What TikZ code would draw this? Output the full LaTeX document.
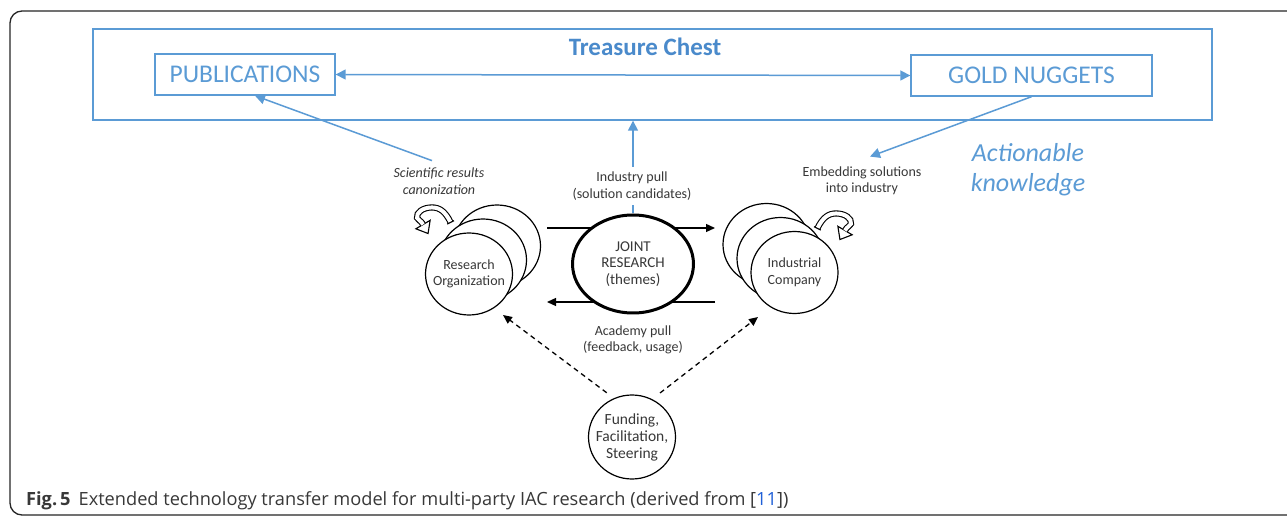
\documentclass[tikz,border=0pt]{standalone}
\usepackage{fontspec}
\setmainfont{Carlito}
\newfontfamily\capfont{Open Sans}
\usetikzlibrary{arrows.meta,shapes.geometric}
\definecolor{cblue}{HTML}{5B9BD5}
\definecolor{tblue}{HTML}{4A8ACB}
\definecolor{ctext}{HTML}{383838}
\definecolor{refblue}{HTML}{2060D8}
\tikzset{
  uturn/.pic={
    \draw[line width=1.1pt, fill=white, line join=miter] (-2.6,1.2) -- (-4.5,13.2) -- (-15.6,8.9) -- cycle;
    \draw[line width=1.1pt, double=white, double distance=4pt]
      (16,3) .. controls (11,-7) and (6,-10.5) .. (-1,-10.5)
      .. controls (-9,-10.5) and (-15.5,-6) .. (-14.5,-1)
      .. controls (-13.5,1) and (-11,1.5) .. (-9,5);
    \draw[line width=1.1pt] (19.1,1.5) -- (12.9,4.6);
  }
}
\begin{document}
\begin{tikzpicture}[x=1pt,y=-1pt,
  barrow/.style={draw=cblue, fill=cblue, line width=1.5pt, -{Triangle[length=10pt,width=10pt]}},
  karrow/.style={draw=black, line width=1.3pt, -{Triangle[length=9pt,width=8pt]}},
  darrow/.style={draw=black, line width=1.3pt, dash pattern=on 5pt off 4pt, -{Triangle[length=9pt,width=8pt]}},
  actor/.style={ellipse, draw=black, line width=1.2pt, fill=white, minimum width=87pt, minimum height=82pt, inner sep=-20pt, align=center, text=ctext, font=\fontsize{14}{16.5}\selectfont},
  lbl/.style={align=center, text=ctext, font=\fontsize{14}{16.5}\selectfont, inner sep=1pt},
  boxlbl/.style={draw=cblue, line width=1.4pt, text=cblue, font=\fontsize{25.5}{28}\selectfont, inner sep=0pt, minimum height=41pt}
]
\useasboundingbox (0,0) rectangle (1287,518);
\fill[white] (0,0) rectangle (1287,518);
% outer frame
\draw[line width=1.3pt, black!85, rounded corners=12pt] (1295,11) -- (10,11) -- (10,515) -- (1295,515);

% treasure chest
\node[draw=cblue, line width=1.4pt, minimum width=1119pt, minimum height=91pt, inner sep=0pt] (chest) at (652.5,74.5) {};
\node[text=tblue, font=\bfseries\fontsize{25}{28}\selectfont] (tc) at (645,47) {Treasure Chest};
\node[boxlbl, minimum width=180pt] (pub) at (245,74.5) {PUBLICATIONS};
\node[boxlbl, minimum width=241pt] (gold) at (1031.5,75.5) {GOLD NUGGETS};
\draw[barrow, {Triangle[length=10pt,width=10pt]}-{Triangle[length=10pt,width=10pt]}] (pub.east) -- (gold.west);

% labels
\node[lbl, font=\itshape\fontsize{14}{16.5}\selectfont] (sci) at (439,181) {Scientific results\\canonization};
\node[lbl] (emb) at (862,181) {Embedding solutions\\into industry};
\node[align=center, text=cblue, font=\itshape\fontsize{26}{30}\selectfont] (ak) at (1028,170) {Actionable\\knowledge};

% joint research + arrows
\coordinate (t1) at (547,228);
\coordinate (t2) at (715,228);
\coordinate (b1) at (715,302);
\coordinate (b2) at (547,302);
\draw[karrow] (t1) -- (t2);
\draw[karrow] (b1) -- (b2);
\node[ellipse, draw=black, line width=3pt, fill=white, minimum width=121pt, minimum height=98pt, inner sep=-20pt, align=center, text=ctext, font=\fontsize{15}{16.5}\selectfont] (jr) at (633,264) {JOINT\\RESEARCH\\(themes)};
\draw[barrow] (jr.north) -- (jr.north |- chest.south);
\node[lbl, fill=white, inner sep=5pt] (ip) at (632,186) {Industry pull\\(solution candidates)};
\node[lbl] (ap) at (633,340) {Academy pull\\(feedback, usage)};

% research organization stack
\node[actor] (rob) at (497,246) {};
\node[actor] (rom) at (483,260) {};
\node[actor] (ro) at (469,274) {Research\\Organization};
% industrial company stack
\node[actor] (icb) at (766.5,244.5) {};
\node[actor] (icm) at (780.5,258.5) {};
\node[actor] (ic) at (794.5,272.5) {Industrial\\Company};

% funding
\node[actor, minimum height=84pt, font=\fontsize{15.5}{17}\selectfont] (fund) at (632,437) {Funding,\\Facilitation,\\Steering};
\coordinate (dl) at (503,315);
\coordinate (dr) at (758,317);
\draw[darrow, shorten <=9pt] (fund.115) -- (dl);
\draw[darrow, shorten <=10pt] (fund.62) -- (dr);

% blue arrows to treasure chest
\draw[barrow] ([xshift=-7pt,yshift=6pt]sci.north) -- ([xshift=10pt]pub.south);
\draw[barrow] (gold.south) -- ([xshift=8pt,yshift=9pt]emb.north);

% u-turn arrows
\pic[scale=1.1] at (433,219) {uturn};
\pic[xscale=-1.1, yscale=1.1] at (835,225) {uturn};

% caption
\node[anchor=base west, text=ctext, inner sep=0pt, font=\capfont\fontsize{18.2}{20}\selectfont] (cap) at (26,505) {\textbf{Fig.\,5}\hspace{8pt}Extended technology transfer model for multi-party IAC research (derived from [\textcolor{refblue}{11}])};
\end{tikzpicture}
\end{document}
